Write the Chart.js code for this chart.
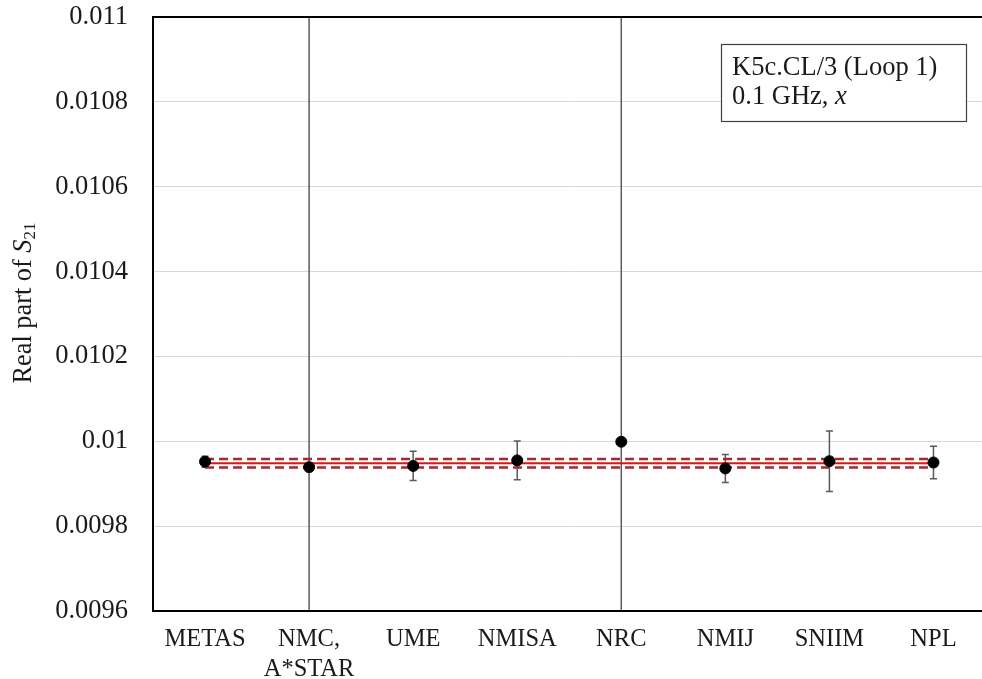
<!DOCTYPE html>
<html>
<head>
<meta charset="utf-8">
<script src="https://cdn.jsdelivr.net/npm/chart.js@4"></script>
<style>
html,body{margin:0;padding:0;background:#fff;overflow:hidden;}
canvas{display:block;}
</style>
</head>
<body>
<canvas id="c" width="992" height="679"></canvas>
<script>
// ---- data ----
const categories = ['METAS', ['NMC,', 'A*STAR'], 'UME', 'NMISA', 'NRC', 'NMIJ', 'SNIIM', 'NPL'];
const values = [0.009952, 0.009939, 0.009942, 0.009955, 0.009999, 0.009936, 0.009953, 0.009950];
const uncertainties = [0.000013, 0.002, 0.0000345, 0.0000455, 0.002, 0.000033, 0.0000715, 0.0000385];
const refValue = 0.009948;
const refUncertainty = 0.00001;
const refFrom = 'METAS';
const refTo = 'NPL';
const yTicks = { min: 0.0096, max: 0.011, step: 0.0002 };
const yTitleParts = [['Real part of ', 'normal'], ['S', 'italic'], ['21', 'sub']];
const boxLines = [[['K5c.CL/3 (Loop 1)', 'normal']], [['0.1 GHz, ', 'normal'], ['x', 'italic']]];

const FONT = '"Liberation Serif", "Times New Roman", serif';
const FS_X = 24.5;
const FS_Y = 26.5;
const FS_T = 26.3;
const FS_BOX = 26.5;

const errorBarPlugin = {
  id: 'errorBars',
  beforeDatasetsDraw(chart) {
    const { ctx, chartArea: a, scales: { x, y } } = chart;
    ctx.save();
    ctx.beginPath();
    ctx.rect(a.left, a.top, a.right - a.left, a.bottom - a.top);
    ctx.clip();
    ctx.strokeStyle = '#595959';
    ctx.lineWidth = 1.5;
    values.forEach((v, i) => {
      const px = x.getPixelForValue(i);
      const yh = y.getPixelForValue(v + uncertainties[i]);
      const yl = y.getPixelForValue(v - uncertainties[i]);
      ctx.beginPath();
      ctx.moveTo(px, yh); ctx.lineTo(px, yl);
      ctx.moveTo(px - 3.5, yh); ctx.lineTo(px + 3.5, yh);
      ctx.moveTo(px - 3.5, yl); ctx.lineTo(px + 3.5, yl);
      ctx.stroke();
    });
    ctx.restore();
    // plot border
    ctx.save();
    ctx.strokeStyle = '#000';
    ctx.lineWidth = 2;
    ctx.strokeRect(a.left, a.top, a.right - a.left, a.bottom - a.top);
    ctx.restore();
  },
  afterDraw(chart) {
    const { ctx } = chart;
    const setFont = (style, fs) => {
      if (style === 'italic') ctx.font = 'italic ' + fs + 'px ' + FONT;
      else if (style === 'sub') ctx.font = Math.round(fs * 0.66) + 'px ' + FONT;
      else ctx.font = fs + 'px ' + FONT;
    };
    // y title
    ctx.save();
    ctx.fillStyle = '#1a1a1a';
    ctx.textBaseline = 'alphabetic';
    let total = 0;
    yTitleParts.forEach(([t, s]) => { setFont(s, FS_T); total += ctx.measureText(t).width; });
    ctx.translate(31, 303);
    ctx.rotate(-Math.PI / 2);
    let cx = -total / 2;
    yTitleParts.forEach(([t, s]) => {
      setFont(s, FS_T);
      ctx.fillText(t, cx, s === 'sub' ? 4 : 0);
      cx += ctx.measureText(t).width;
    });
    ctx.restore();
    // annotation box
    ctx.save();
    ctx.fillStyle = '#fff';
    ctx.fillRect(721, 44, 245, 77);
    ctx.strokeStyle = '#404040';
    ctx.lineWidth = 1.2;
    ctx.strokeRect(721.5, 44.5, 245, 77);
    ctx.fillStyle = '#1a1a1a';
    boxLines.forEach((line, li) => {
      let lx = 732;
      const by = 75 + li * 29;
      line.forEach(([t, s]) => {
        setFont(s, FS_BOX);
        ctx.fillText(t, lx, by);
        lx += ctx.measureText(t).width;
      });
    });
    ctx.restore();
  }
};

new Chart(document.getElementById('c'), {
  type: 'line',
  data: {
    labels: categories,
    datasets: [
      {
        type: 'scatter',
        data: values.map((v, i) => ({ x: i, y: v })),
        backgroundColor: '#000',
        borderColor: '#000',
        pointRadius: 5.5,
        pointHoverRadius: 5.5,
        showLine: false,
        order: 0
      },
      {
        data: [{ x: refFrom, y: refValue }, { x: refTo, y: refValue }],
        borderColor: '#e3130f',
        borderWidth: 2,
        pointRadius: 0,
        fill: false,
        order: 1
      },
      {
        data: [{ x: refFrom, y: refValue + refUncertainty }, { x: refTo, y: refValue + refUncertainty }],
        borderColor: '#a52a2f',
        borderWidth: 2.5,
        borderDash: [9, 5],
        pointRadius: 0,
        fill: false,
        order: 1
      },
      {
        data: [{ x: refFrom, y: refValue - refUncertainty }, { x: refTo, y: refValue - refUncertainty }],
        borderColor: '#a52a2f',
        borderWidth: 2.5,
        borderDash: [9, 5],
        pointRadius: 0,
        fill: false,
        order: 1
      }
    ]
  },
  options: {
    responsive: false,
    devicePixelRatio: 1,
    animation: false,
    layout: { padding: { top: 17, right: 1, left: 0, bottom: 0 } },
    plugins: { legend: { display: false }, tooltip: { enabled: false } },
    scales: {
      x: {
        type: 'category',
        offset: true,
        grid: { display: false, drawTicks: false },
        border: { display: true, color: '#000', width: 2 },
        ticks: {
          color: '#1a1a1a',
          font: { family: FONT, size: FS_X },
          padding: 14,
          maxRotation: 0,
          autoSkip: false
        },
        afterFit(s) { s.height = 68; }
      },
      y: {
        min: yTicks.min,
        max: yTicks.max,
        grid: { color: '#d9d9d9', lineWidth: 1, drawTicks: true, tickLength: 25, tickColor: 'rgba(0,0,0,0)' },
        border: { display: true, color: '#000', width: 2 },
        ticks: {
          stepSize: yTicks.step,
          color: '#1a1a1a',
          font: { family: FONT, size: FS_Y },
          padding: 0,
          callback: (v) => parseFloat(Number(v).toFixed(4)).toString()
        },
        afterFit(s) { s.width = 153; }
      }
    }
  },
  plugins: [errorBarPlugin]
});
</script>
</body>
</html>
